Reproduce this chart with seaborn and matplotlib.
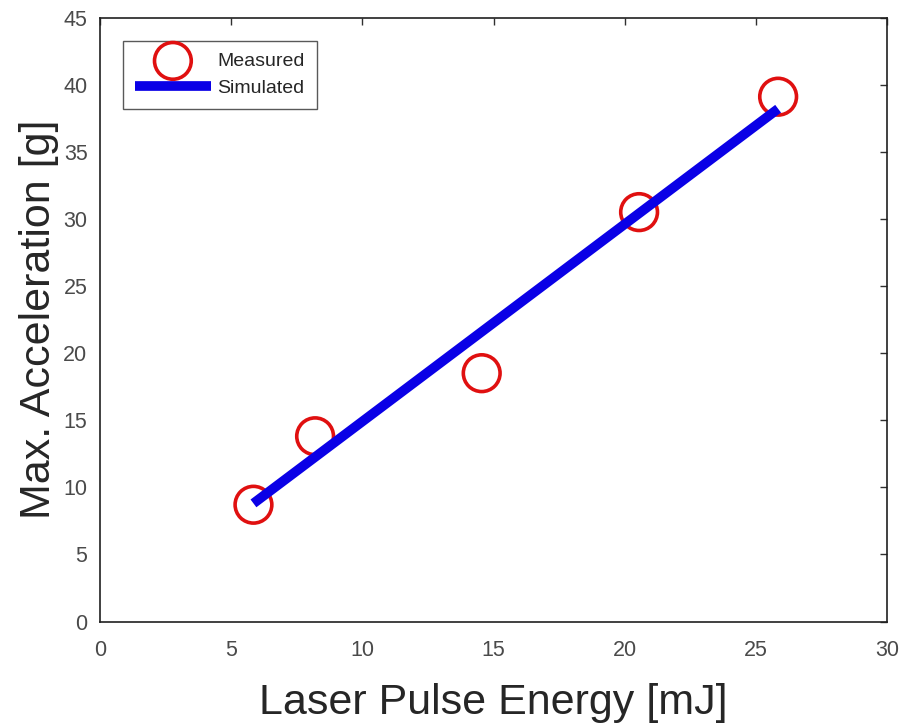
import matplotlib
matplotlib.use("Agg")
import matplotlib.pyplot as plt
import seaborn as sns
import pandas as pd

# Data
measured_energy = [5.85, 8.2, 14.55, 20.55, 25.85]
measured_accel = [8.7, 13.8, 18.5, 30.5, 39.1]
sim_energy = [5.85, 25.85]
sim_accel = [8.8, 38.2]
x_ticks = [0, 5, 10, 15, 20, 25, 30]
y_ticks = [0, 5, 10, 15, 20, 25, 30, 35, 40, 45]

sns.set_style("white")
plt.rcParams['font.family'] = ['Liberation Sans', 'DejaVu Sans']

fig = plt.figure(figsize=(9.06, 7.23), dpi=100)
ax = fig.add_axes([100/906, 1-621.5/723, 787/906, 604/723])

df_m = pd.DataFrame({"x": measured_energy, "y": measured_accel})
df_s = pd.DataFrame({"x": sim_energy, "y": sim_accel})

sns.scatterplot(data=df_m, x="x", y="y", ax=ax, marker="o", s=700,
                facecolor="none", edgecolor="#e01010", linewidth=2.6,
                label="Measured", zorder=2)
sns.lineplot(data=df_s, x="x", y="y", ax=ax, color="#0a00e6", linewidth=7,
             label="Simulated", zorder=3, solid_capstyle="butt")

ax.set_xlim(0, 30)
ax.set_ylim(0, 45)
ax.set_xticks(x_ticks)
ax.set_yticks(y_ticks)
ax.tick_params(direction="in", length=5, width=1, top=True, right=True,
               labelsize=15.5, labelcolor="#4a4a4a", color="#303030")
ax.tick_params(axis="x", pad=13)
ax.tick_params(axis="y", pad=9)
for sp in ax.spines.values():
    sp.set_visible(True)
    sp.set_color("#202020")
    sp.set_linewidth(1.2)

ax.set_xlabel("Laser Pulse Energy [mJ]", fontsize=31, color="#262626", labelpad=16)
ax.set_ylabel("Max. Acceleration [g]", fontsize=31, color="#262626", labelpad=3)

leg = ax.legend(loc="upper left", bbox_to_anchor=(0.0296, 0.9616), fontsize=14,
                frameon=True, fancybox=False, edgecolor="#303030",
                handlelength=3.9, handletextpad=0.35, labelspacing=0.5,
                borderpad=0.6, borderaxespad=0, markerscale=1.0)
leg.get_frame().set_linewidth(1.0)

fig.savefig("out.png", dpi=100)
